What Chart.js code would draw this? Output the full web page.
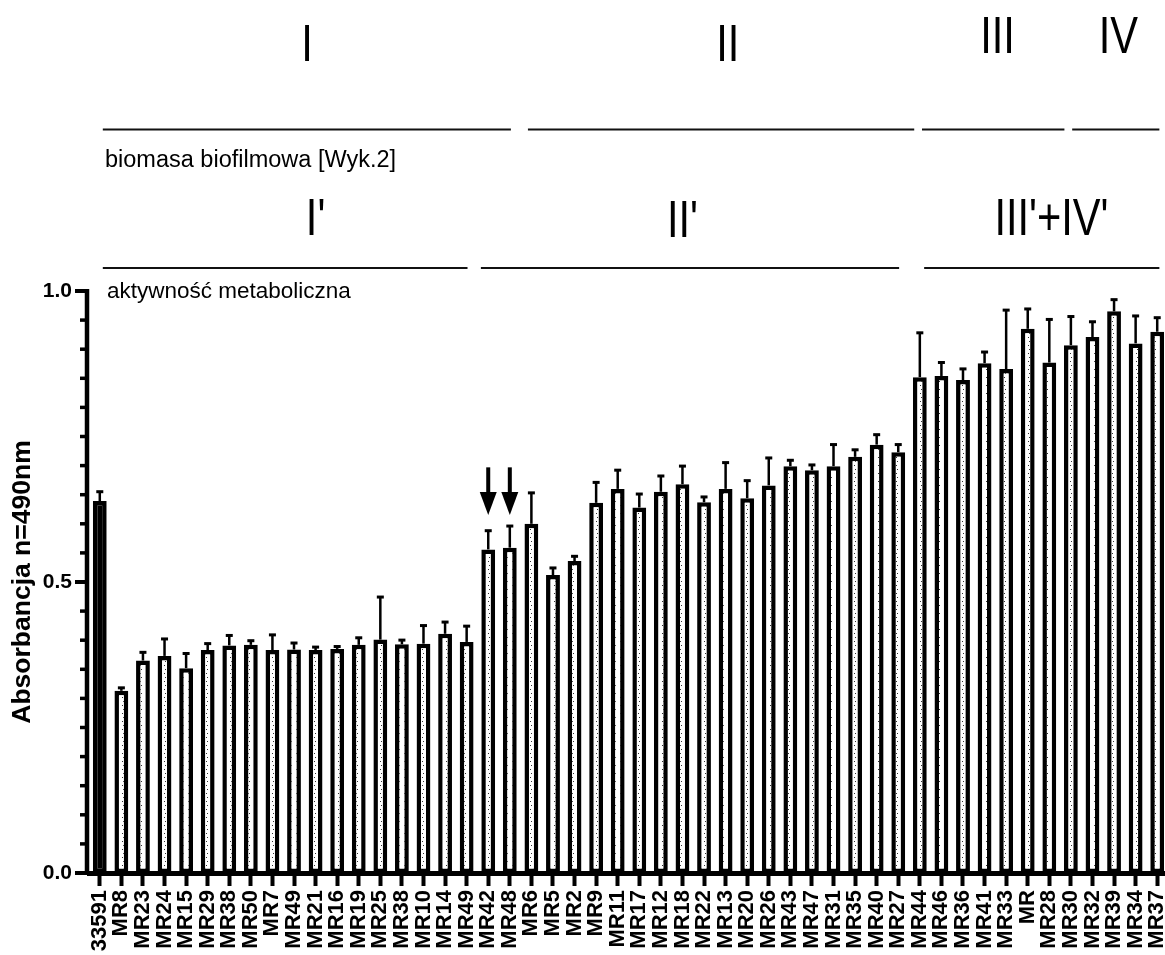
<!DOCTYPE html>
<html>
<head>
<meta charset="utf-8">
<script src="https://cdn.jsdelivr.net/npm/chart.js@4.4.0/dist/chart.umd.min.js"></script>
<style>
  html, body { margin: 0; padding: 0; background: #fff; overflow: hidden; }
  canvas { display: block; }
</style>
</head>
<body>
<canvas id="c" width="1168" height="955"></canvas>
<script>
// Strains, in plotted order (33591 = reference strain)
const strains = ['33591','MR8','MR23','MR24','MR15','MR29','MR38','MR50','MR7','MR49',
  'MR21','MR16','MR19','MR25','MR38','MR10','MR14','MR49','MR42','MR48',
  'MR6','MR5','MR2','MR9','MR11','MR17','MR12','MR18','MR22','MR13',
  'MR20','MR26','MR43','MR47','MR31','MR35','MR40','MR27','MR44','MR46',
  'MR36','MR41','MR33','MR','MR28','MR30','MR32','MR39','MR34','MR37'];

// Mean absorbance (490 nm)
const absorbance = [0.639,0.313,0.365,0.373,0.352,0.383,0.391,0.392,0.383,0.384,
  0.383,0.385,0.392,0.401,0.393,0.394,0.411,0.397,0.556,0.559,
  0.600,0.512,0.536,0.636,0.660,0.628,0.655,0.668,0.637,0.660,
  0.644,0.666,0.699,0.692,0.699,0.715,0.736,0.723,0.852,0.854,
  0.847,0.876,0.866,0.935,0.877,0.907,0.921,0.965,0.910,0.930];

// Standard deviation (upper whisker)
const sdErr = [0.017,0.006,0.015,0.030,0.026,0.012,0.018,0.008,0.027,0.012,
  0.006,0.005,0.013,0.074,0.008,0.032,0.021,0.028,0.033,0.038,
  0.054,0.013,0.009,0.036,0.033,0.024,0.028,0.032,0.010,0.046,
  0.031,0.048,0.011,0.010,0.038,0.013,0.018,0.014,0.077,0.024,
  0.020,0.020,0.102,0.035,0.075,0.050,0.027,0.021,0.048,0.025];

// Strains marked with an arrow (indices into strains)
const markedIdx = [18, 19];
// Arrow extent in absorbance units (tail, tip)
const arrowSpan = [0.697, 0.615];

// Y axis ticks
const yMajorTicks = [0.0, 0.5, 1.0];
const yMinorStep = 0.05;

// Biofilm biomass groups (category-index spans)
const biomassLabels = ['I', 'II', 'III', 'IV'];
const biomassSpans = [[0.14, 19.05], [19.84, 37.74], [38.1, 44.7], [45.06, 49.1]];
const biomassLabelAt = [9.6, 29.1, 41.6, 47.2];

// Metabolic activity groups (category-index spans)
const metabolicLabels = ["I'", "II'", "III'+IV'"];
const metabolicSpans = [[0.14, 17.04], [17.66, 37.04], [38.2, 49.1]];
const metabolicLabelAt = [10.0, 27.0, 44.1];

const FONT = '"Liberation Sans", Arial, Helvetica, sans-serif';

const canvas = document.getElementById('c');
const ctx = canvas.getContext('2d');

function dotPattern() {
  const p = document.createElement('canvas');
  p.width = 6; p.height = 8;
  const g = p.getContext('2d');
  g.fillStyle = '#fff';
  g.fillRect(0, 0, 6, 8);
  g.fillStyle = '#333';
  g.fillRect(2, 1, 1, 1);
  g.fillRect(3, 5, 1, 1);
  return ctx.createPattern(p, 'repeat');
}
const dots = dotPattern();

// y axis line with long major and short minor ticks
const yAxisPlugin = {
  id: 'yAxisTicks',
  afterDraw(chart) {
    const y = chart.scales.y;
    const c = chart.ctx;
    const ax = 87;
    c.save();
    c.strokeStyle = '#000';
    c.lineWidth = 4.5;
    c.beginPath();
    c.moveTo(ax, y.getPixelForValue(0) + 2);
    c.lineTo(ax, y.getPixelForValue(1.0) - 2);
    c.stroke();
    const n = Math.round(1.0 / yMinorStep);
    for (let i = 0; i <= n; i++) {
      const v = i * yMinorStep;
      const py = y.getPixelForValue(v);
      const major = yMajorTicks.some(m => Math.abs(m - v) < 1e-9);
      c.lineWidth = major ? 4 : 3.5;
      c.beginPath();
      c.moveTo(major ? 75 : 80, py);
      c.lineTo(ax, py);
      c.stroke();
    }
    c.restore();
  }
};

// SD whiskers and arrows
const errorPlugin = {
  id: 'errorBars',
  afterDatasetsDraw(chart) {
    const y = chart.scales.y;
    const meta = chart.getDatasetMeta(0);
    const c = chart.ctx;
    c.save();
    c.strokeStyle = '#000';
    c.fillStyle = '#000';
    meta.data.forEach((bar, i) => {
      const x = bar.x;
      const top = y.getPixelForValue(absorbance[i]);
      const end = y.getPixelForValue(absorbance[i] + sdErr[i]);
      c.lineWidth = 2.5;
      c.beginPath();
      c.moveTo(x, top);
      c.lineTo(x, end);
      c.stroke();
      c.fillRect(x - 3.5, end - 1, 7, 3);
    });
    markedIdx.forEach(i => {
      const x = meta.data[i].x;
      const tail = y.getPixelForValue(arrowSpan[0]);
      const tip = y.getPixelForValue(arrowSpan[1]);
      const headStart = tip - 23;
      c.fillRect(x - 2, tail, 4, headStart - tail + 1);
      c.beginPath();
      c.moveTo(x - 8.5, headStart);
      c.lineTo(x + 8.5, headStart);
      c.lineTo(x, tip);
      c.closePath();
      c.fill();
    });
    c.restore();
  }
};

// Group annotations above the plot
const groupPlugin = {
  id: 'groups',
  afterDraw(chart) {
    const xs = chart.scales.x;
    const c = chart.ctx;
    const px = v => xs.getPixelForValue(v);
    c.save();
    c.fillStyle = '#000';
    c.strokeStyle = '#111';
    c.lineWidth = 2.2;

    function hline(span, yy) {
      c.beginPath();
      c.moveTo(px(span[0]), yy);
      c.lineTo(px(span[1]), yy);
      c.stroke();
    }
    function numeral(text, at, base) {
      c.save();
      c.font = '52px ' + FONT;
      c.textAlign = 'center';
      c.textBaseline = 'alphabetic';
      c.translate(px(at), base);
      c.scale(0.8, 1);
      c.fillText(text, 0, 0);
      c.restore();
    }
    const biomassBase = [61, 61, 53, 53];
    biomassSpans.forEach(s => hline(s, 129.5));
    biomassLabels.forEach((t, i) => numeral(t, biomassLabelAt[i], biomassBase[i]));
    metabolicSpans.forEach(s => hline(s, 268));
    const metabolicBase = [235, 237, 235];
    metabolicLabels.forEach((t, i) => numeral(t, metabolicLabelAt[i], metabolicBase[i]));

    c.textAlign = 'left';
    c.textBaseline = 'alphabetic';
    c.font = '23.5px ' + FONT;
    c.fillText('biomasa biofilmowa [Wyk.2]', 105, 167);
    c.font = '22.5px ' + FONT;
    c.fillText('aktywność metaboliczna', 107, 298);
    c.restore();
  }
};

new Chart(ctx, {
  type: 'bar',
  data: {
    labels: strains,
    datasets: [{
      data: absorbance,
      backgroundColor: c => c.dataIndex === 0 ? '#000' : dots,
      borderColor: '#000',
      borderWidth: 4.5,
      borderSkipped: false,
      barPercentage: 0.64,
      categoryPercentage: 1.0
    }]
  },
  options: {
    responsive: false,
    animation: false,
    devicePixelRatio: 1,
    layout: { padding: { top: 291, right: 0, bottom: 0, left: 0 } },
    plugins: { legend: { display: false }, tooltip: { enabled: false } },
    scales: {
      x: {
        offset: true,
        grid: { display: true, drawOnChartArea: false, tickLength: 13, tickWidth: 4, tickColor: '#000', offset: false },
        border: { display: true, color: '#000', width: 5 },
        ticks: {
          autoSkip: false, minRotation: 90, maxRotation: 90, padding: 4,
          color: '#000', font: { family: FONT, size: 22, weight: 'bold' }
        },
        afterFit(scale) {
          scale.height = 82;
          scale.paddingLeft = 0;
          scale.paddingRight = 0;
        }
      },
      y: {
        min: 0, max: 1.0,
        grid: { display: false, drawTicks: false },
        border: { display: false },
        ticks: {
          stepSize: yMinorStep, autoSkip: false, padding: 17, color: '#000',
          font: { family: FONT, size: 21, weight: 'bold' },
          callback: v => yMajorTicks.some(m => Math.abs(m - v) < 1e-9) ? Number(v).toFixed(1) : ''
        },
        title: {
          display: true, text: 'Absorbancja n=490nm', color: '#000',
          font: { family: FONT, size: 26.5, weight: 'bold' },
          padding: { top: 7, bottom: 0 }
        },
        afterFit(scale) {
          scale.width = 89;
          scale.paddingTop = 0;
          scale.paddingBottom = 0;
        }
      }
    }
  },
  plugins: [yAxisPlugin, errorPlugin, groupPlugin]
});
</script>
</body>
</html>
